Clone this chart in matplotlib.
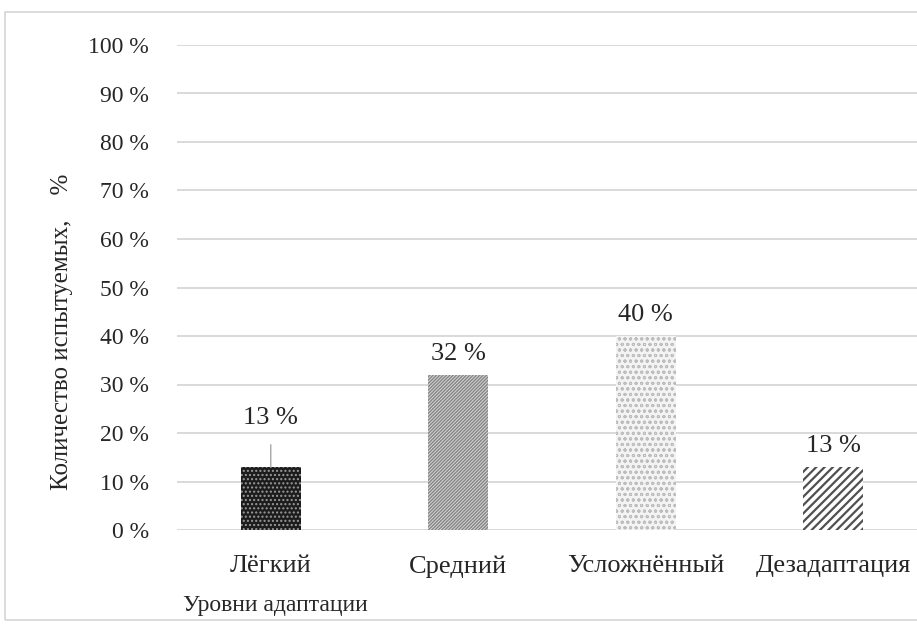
import matplotlib
matplotlib.use("Agg")
import matplotlib.pyplot as plt
from matplotlib.patches import Rectangle

plt.rcParams["font.family"] = ["Liberation Serif", "DejaVu Serif"]

levels = ["Лёгкий", "Средний", "Усложнённый", "Дезадаптация"]
shares = [13, 32, 40, 13]
y_ticks = list(range(0, 101, 10))

# fill, hatch colour, hatch pattern, hatch line width
styles = [
    ("#1c1c1c", "#9a9a9a", "....", 1.0),
    ("#858585", "#d6d6d6", "//////////", 0.7),
    ("#f3f3f3", "#bdbdbd", "ooo", 0.7),
    ("#ffffff", "#505050", "////", 1.6),
]

W, H = 917, 630
fig = plt.figure(figsize=(W / 100, H / 100), dpi=100)
fig.patch.set_facecolor("white")

# light frame around the chart
fig.add_artist(Rectangle((5 / W, 10 / H), 1.2, 608 / H, transform=fig.transFigure,
                         facecolor="none", edgecolor="#d6d6d6", linewidth=1.2))

left, right = 177 / W, 1.0
bottom, top = (H - 530) / H, (H - 45) / H
ax = fig.add_axes([left, bottom, right - left, top - bottom])

x = list(range(len(levels)))
bars = ax.bar(x, shares, width=0.32, linewidth=0, zorder=3)
for b, (fc, hc, hatch, hlw) in zip(bars, styles):
    b.set_facecolor(fc)
    b.set_edgecolor(hc)
    b.set_hatch(hatch)
    if hasattr(b, "set_hatch_linewidth"):
        b.set_hatch_linewidth(hlw)

ax.set_xlim(-0.5, 3.447)
ax.set_ylim(0, 100)
ax.set_yticks(y_ticks)
ax.set_yticklabels([f"{v} %" for v in y_ticks], fontsize=17, color="#262626")
ax.set_xticks(x)
ax.set_xticklabels(levels, fontsize=19, color="#262626")
ax.tick_params(length=0)
ax.tick_params(axis="y", pad=20)
ax.tick_params(axis="x", pad=18)
ax.grid(axis="y", color="#d9d9d9", linewidth=1.4, zorder=0)
for s in ax.spines.values():
    s.set_visible(False)

# value labels; the first one is lifted and tied to its bar with a leader line
for i, v in enumerate(shares):
    if i == 0:
        ax.annotate(f"{v} %", xy=(i, v), xytext=(i, v + 10), ha="center", va="center",
                    fontsize=19, color="#262626",
                    arrowprops=dict(arrowstyle="-", color="#a6a6a6", lw=1,
                                    shrinkA=9, shrinkB=0))
    else:
        ax.text(i, v + 2, f"{v} %", ha="center", va="bottom", fontsize=19, color="#262626")

fig.text(62 / W, (H - 332) / H, "Количество испытуемых,    %", rotation=90,
         ha="center", va="center", fontsize=18, color="#262626")
fig.text(183 / W, (H - 606) / H, "Уровни адаптации", ha="left", va="center",
         fontsize=17, color="#262626")

fig.savefig("out.png", dpi=100)
